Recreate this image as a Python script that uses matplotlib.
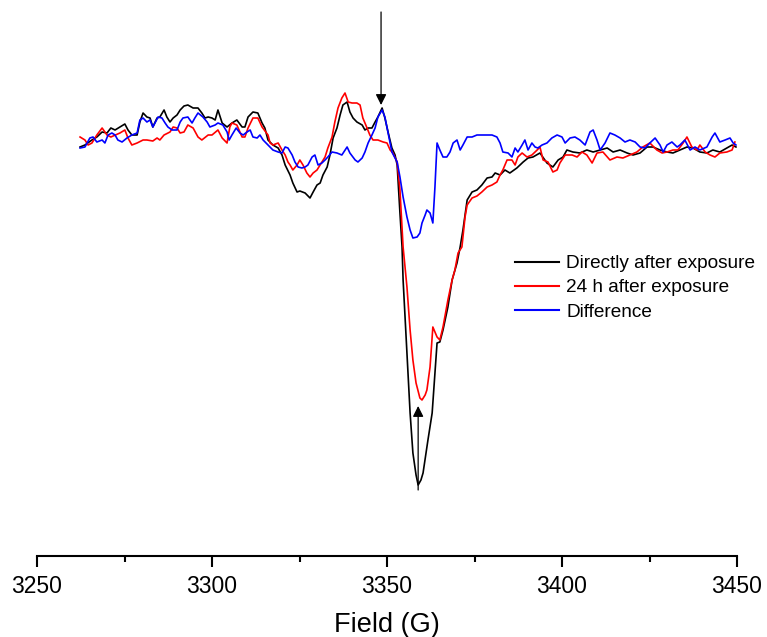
import matplotlib
matplotlib.use("Agg")
import matplotlib.pyplot as plt
from matplotlib.ticker import MultipleLocator

plt.rcParams['font.family'] = ['Liberation Sans', 'DejaVu Sans']

# ---- data: field (G) and EPR intensity (arbitrary units) ----
black_field = [3262.3, 3263.7, 3265.7, 3267.1, 3268.6, 3270.0, 3271.1, 3272.3, 3273.7, 3275.1, 3276.0, 3277.1, 3278.6,
               3279.4, 3280.3, 3281.4, 3282.3, 3283.1, 3284.3, 3285.1, 3286.3, 3287.1, 3288.0, 3288.9, 3290.0, 3290.9,
               3292.0, 3293.1, 3294.6, 3296.0, 3297.1, 3298.0, 3298.9, 3300.0, 3300.9, 3301.7, 3302.9, 3304.3, 3305.7,
               3307.1, 3308.6, 3309.4, 3310.3, 3311.7, 3313.1, 3314.3, 3315.1, 3316.0, 3317.4, 3318.9, 3320.0, 3320.9,
               3322.3, 3323.1, 3324.3, 3325.1, 3326.6, 3328.0, 3328.9, 3330.0, 3330.9, 3331.7, 3332.9, 3333.7, 3334.6,
               3335.7, 3336.6, 3337.4, 3338.6, 3339.4, 3340.3, 3341.4, 3342.9, 3343.7, 3344.6, 3345.7, 3346.6, 3347.4,
               3348.6, 3349.4, 3350.3, 3351.4, 3352.3, 3352.9, 3353.7, 3354.3, 3354.6, 3355.1, 3355.7, 3356.6, 3357.4,
               3358.3, 3358.9, 3359.7, 3360.3, 3361.7, 3362.9, 3363.7, 3364.3, 3365.1, 3366.0, 3367.4, 3368.6, 3370.0,
               3370.9, 3371.7, 3372.9, 3374.3, 3375.7, 3377.1, 3378.6, 3380.0, 3380.9, 3382.3, 3383.7, 3385.1, 3387.1,
               3388.9, 3390.3, 3391.7, 3393.7, 3395.7, 3397.4, 3398.9, 3400.3, 3401.4, 3403.1, 3405.1, 3407.1, 3408.9,
               3410.9, 3412.9, 3414.6, 3416.6, 3418.6, 3420.3, 3422.3, 3424.3, 3426.0, 3428.0, 3430.0, 3431.7, 3433.7,
               3435.7, 3437.4, 3439.4, 3441.4, 3443.1, 3445.1, 3447.1, 3448.6, 3449.7]
black_int = [-2, 0, 5, 8, 13, 12, 17, 15, 18, 21, 15, 10, 10,
             23, 32, 28, 27, 18, 27, 28, 35, 28, 23, 27, 30, 35,
             39, 40, 37, 37, 32, 27, 28, 27, 25, 35, 22, 18, 22,
             25, 18, 18, 28, 33, 32, 22, 17, 5, 0, -3, -10, -20,
             -30, -38, -47, -46, -48, -53, -47, -40, -38, -30, -22, -10, 7,
             17, 30, 40, 43, 33, 27, 23, 20, 15, 17, 17, 23, 28,
             37, 27, 13, -3, -10, -20, -68, -102, -135, -168, -208, -268, -308,
             -330, -340, -335, -328, -295, -268, -228, -198, -197, -185, -162, -135, -118,
             -102, -85, -55, -47, -45, -40, -33, -32, -28, -30, -25, -28, -23,
             -17, -13, -12, -8, -18, -22, -15, -12, -5, -7, -8, -5, -7,
             -5, -3, -7, -5, -8, -10, -8, -2, -2, -5, -7, -8, -5,
             -2, -3, -7, -8, -5, -7, -3, 0, -2]

red_field = [3262.3, 3263.7, 3264.6, 3265.7, 3267.1, 3268.6, 3270.0, 3271.1, 3273.7, 3275.1, 3276.0, 3277.1, 3278.6,
             3280.3, 3281.4, 3283.1, 3284.3, 3285.1, 3286.3, 3288.0, 3288.9, 3290.0, 3290.9, 3292.0, 3293.1, 3294.6,
             3296.0, 3297.1, 3298.9, 3300.0, 3301.7, 3302.9, 3304.3, 3305.1, 3305.7, 3307.1, 3308.6, 3309.4, 3310.3,
             3311.7, 3313.1, 3314.3, 3316.0, 3316.6, 3317.4, 3318.9, 3320.0, 3320.9, 3321.7, 3322.3, 3323.1, 3324.3,
             3325.1, 3326.0, 3327.1, 3328.0, 3328.9, 3330.0, 3331.4, 3332.3, 3333.1, 3334.3, 3335.1, 3336.0, 3337.1,
             3338.0, 3338.9, 3340.0, 3341.4, 3342.3, 3343.1, 3344.3, 3345.1, 3346.0, 3347.4, 3348.9, 3350.0, 3350.9,
             3351.7, 3352.9, 3353.7, 3354.6, 3355.7, 3356.6, 3357.4, 3358.3, 3359.4, 3360.0, 3360.9, 3361.4, 3362.3,
             3363.1, 3364.3, 3365.1, 3366.0, 3367.4, 3368.6, 3369.4, 3370.3, 3371.4, 3372.3, 3372.9, 3374.3, 3375.7,
             3377.1, 3378.6, 3380.0, 3381.4, 3382.3, 3383.1, 3384.3, 3385.7, 3386.6, 3387.4, 3388.6, 3390.0, 3391.4,
             3392.9, 3393.7, 3394.6, 3396.0, 3397.4, 3398.6, 3399.4, 3400.9, 3402.9, 3404.3, 3405.7, 3407.1, 3408.6,
             3410.0, 3411.7, 3413.7, 3415.7, 3417.4, 3419.4, 3421.4, 3423.1, 3425.1, 3427.1, 3428.6, 3430.0, 3431.7,
             3433.1, 3434.6, 3435.7, 3437.1, 3438.6, 3439.4, 3440.9, 3442.3, 3443.7, 3445.1, 3447.1, 3448.6, 3449.4]
red_int = [8, 5, 0, 2, 10, 17, 10, 8, 12, 15, 7, 0, 2,
           5, 5, 4, 7, 5, 10, 13, 18, 17, 12, 13, 20, 17,
           8, 5, 10, 10, 15, 7, 2, 18, 22, 20, 8, 8, 17,
           27, 27, 18, 10, 2, 0, 2, -5, -10, -17, -20, -25, -20,
           -15, -20, -28, -32, -28, -25, -17, -12, -3, 8, 23, 37, 47,
           52, 43, 42, 42, 40, 27, 17, 10, 5, 5, 3, 2, -5,
           -8, -17, -45, -102, -142, -185, -215, -238, -253, -255, -250, -245, -222,
           -182, -192, -195, -182, -155, -135, -125, -108, -102, -72, -60, -53, -51,
           -47, -42, -40, -37, -30, -25, -15, -15, -20, -12, -8, -12, -10,
           -5, -2, -15, -17, -27, -25, -18, -10, -10, -12, -7, -10, -18,
           -8, -7, -15, -12, -13, -10, -7, -2, 2, -5, -8, -7, -5,
           -5, 2, 8, -2, -5, 0, -7, -10, -12, -8, -7, -5, 3]

blue_field = [3262.3, 3263.7, 3265.1, 3266.0, 3267.1, 3268.6, 3269.4, 3270.3, 3271.4, 3272.3, 3273.1, 3274.3, 3275.7,
              3277.1, 3278.6, 3279.4, 3280.3, 3281.4, 3282.3, 3283.1, 3284.6, 3285.7, 3286.6, 3287.4, 3288.6, 3290.0,
              3290.9, 3291.7, 3293.1, 3294.3, 3295.1, 3296.0, 3297.4, 3298.6, 3299.4, 3300.9, 3301.7, 3303.1, 3304.3,
              3304.9, 3305.7, 3306.9, 3308.0, 3308.9, 3310.0, 3310.9, 3311.7, 3312.9, 3313.7, 3314.6, 3316.0, 3317.4,
              3318.9, 3320.0, 3320.9, 3321.7, 3322.9, 3323.7, 3324.6, 3325.7, 3326.6, 3327.4, 3328.6, 3329.4, 3330.3,
              3331.4, 3332.3, 3333.1, 3334.3, 3335.7, 3337.1, 3338.6, 3339.4, 3340.9, 3341.7, 3342.9, 3343.7, 3344.6,
              3345.7, 3346.6, 3347.4, 3348.6, 3349.4, 3350.3, 3351.4, 3352.9, 3353.7, 3354.6, 3355.7, 3356.6, 3357.4,
              3358.6, 3359.4, 3360.0, 3360.9, 3361.4, 3362.3, 3363.1, 3363.7, 3364.3, 3365.1, 3366.0, 3367.1, 3368.0,
              3368.9, 3370.0, 3370.9, 3371.7, 3372.9, 3374.3, 3375.7, 3377.1, 3378.6, 3380.0, 3381.4, 3382.3, 3383.1,
              3384.6, 3385.7, 3386.6, 3387.4, 3388.6, 3389.4, 3390.3, 3391.4, 3392.3, 3393.1, 3394.3, 3395.7, 3397.1,
              3398.6, 3400.0, 3400.9, 3402.3, 3403.7, 3405.1, 3406.6, 3408.0, 3408.9, 3410.0, 3410.9, 3412.3, 3413.7,
              3415.1, 3416.6, 3418.0, 3419.4, 3420.9, 3422.3, 3423.7, 3425.1, 3426.6, 3428.0, 3428.9, 3430.0, 3431.4,
              3432.9, 3433.7, 3435.1, 3436.6, 3438.0, 3439.4, 3441.4, 3442.9, 3443.7, 3445.1, 3446.6, 3448.0, 3448.9,
              3449.7]
blue_int = [-3, -2, 7, 8, 3, 5, 2, 10, 12, 10, 5, 3, 7,
            10, 12, 25, 27, 23, 25, 18, 28, 27, 22, 18, 15, 15,
            23, 27, 28, 22, 27, 32, 28, 23, 18, 20, 22, 20, 13,
            5, 10, 17, 12, 10, 13, 15, 8, 7, 10, 5, 0, -5,
            -7, -8, -2, -3, -10, -17, -22, -23, -22, -20, -12, -10, -20,
            -18, -15, -12, -7, -8, -10, -2, -8, -15, -17, -13, -7, 2,
            10, 17, 28, 35, 28, 12, -7, -17, -32, -52, -72, -85, -93,
            -92, -88, -78, -70, -65, -68, -78, -42, 2, -5, -12, -12, -7,
            2, 5, -5, 0, 8, 8, 10, 10, 10, 10, 8, 2, -7,
            -8, -12, -3, -7, 0, 5, -5, 2, -2, -3, 0, 2, 7,
            10, 8, 2, 7, 8, 5, 0, 13, 15, 5, -5, 2, 12,
            10, 7, 3, 5, 3, -2, -3, 2, 7, 0, -7, 0, 3,
            -2, 0, 5, -5, -2, -5, -2, 8, 12, 3, 5, 7, 2,
            0]

series_labels = ["Directly after exposure", "24 h after exposure", "Difference"]
series_colors = ["#000000", "#ff0000", "#0000ff"]

x_ticks = [3250, 3300, 3350, 3400, 3450]
x_label = "Field (G)"

# arrows (field, intensity start -> end)
arrow1_field, arrow1_from, arrow1_to = 3348.3, 133, 40
arrow2_field, arrow2_from, arrow2_to = 3358.9, -345, -261

# ---- figure ----
W, H = 767, 637
fig = plt.figure(figsize=(W / 100, H / 100), dpi=100)
ax = fig.add_axes([37 / W, (H - 556) / H, 700 / W, 556 / H])

for xs, ys, c, lab in zip([black_field, red_field, blue_field],
                          [black_int, red_int, blue_int],
                          series_colors, series_labels):
    ax.plot(xs, ys, color=c, lw=1.2, label=lab, solid_joinstyle='round')

for fx, y0, y1 in [(arrow1_field, arrow1_from, arrow1_to), (arrow2_field, arrow2_from, arrow2_to)]:
    ax.annotate("", xy=(fx, y1), xytext=(fx, y0),
                arrowprops=dict(arrowstyle='-|>', color='black', lw=0.9, mutation_scale=16,
                                shrinkA=0, shrinkB=0))

ax.set_xlim(3250, 3450)
ax.set_ylim(-411, 145)
for s in ['left', 'right', 'top']:
    ax.spines[s].set_visible(False)
ax.spines['bottom'].set_linewidth(1.5)
ax.set_yticks([])
ax.set_xticks(x_ticks)
ax.set_xticklabels([str(t) for t in x_ticks])
ax.xaxis.set_minor_locator(MultipleLocator(25))
ax.tick_params(axis='x', which='major', direction='out', length=8, width=1.5, labelsize=16.5, pad=6)
ax.tick_params(axis='x', which='minor', direction='out', length=4, width=1.5)
ax.set_xlabel(x_label, fontsize=19.5, labelpad=10)
ax.patch.set_alpha(0)

leg = ax.legend(loc='upper left', bbox_to_anchor=(515 / W, 1 - 255 / H),
                bbox_transform=fig.transFigure, frameon=False, fontsize=13.7,
                handlelength=2.3, handletextpad=0.4, labelspacing=0.36,
                borderpad=0, borderaxespad=0)
for line in leg.get_lines():
    line.set_linewidth(1.5)

fig.savefig("out.png", dpi=100)
